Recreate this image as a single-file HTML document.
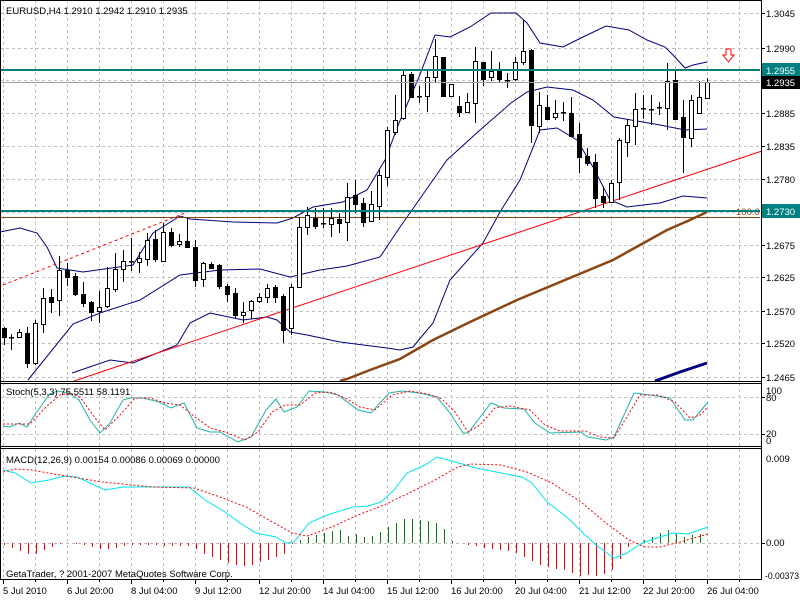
<!DOCTYPE html>
<html><head><meta charset="utf-8"><style>
html,body{margin:0;padding:0;background:#fff;}
svg{display:block;font-family:"Liberation Sans",sans-serif;font-size:9.5px;}
</style></head><body>
<svg id="s" width="800" height="600" xmlns="http://www.w3.org/2000/svg"></svg>
<script>
var s=document.getElementById('s');var h='';
function L(x1,y1,x2,y2,c,w,d){h+='<line x1="'+x1+'" y1="'+y1+'" x2="'+x2+'" y2="'+y2+'" stroke="'+c+'" stroke-width="'+(w||1)+'"'+(d?' stroke-dasharray="'+d+'"':'')+'/>';}
function P(pts,c,w,d){h+='<polyline fill="none" points="'+pts.map(function(p){return p.join(',')}).join(' ')+'" stroke="'+c+'" stroke-width="'+(w||1)+'"'+(d?' stroke-dasharray="'+d+'"':'')+'/>';}
function T(x,y,t,c,a){h+='<text x="'+x+'" y="'+y+'" fill="'+(c||'#000')+'"'+(a?' text-anchor="'+a+'"':'')+'>'+t+'</text>';}
var G='#c0c0c0',D='3,3';
for(var x=3;x<760;x+=32){L(x+.5,0,x+.5,381,G,1,D);L(x+.5,383,x+.5,446,G,1,D);L(x+.5,449,x+.5,579,G,1,D);}
var gy=[13,48,80,113,146,179,212,245,277,311,343,377];
gy.forEach(function(y){L(0,y+.5,760,y+.5,G,1,D);});
L(0,397.5,760,397.5,G,1,D);L(0,434.5,760,434.5,G,1,D);L(0,543.5,760,543.5,G,1,D);
var lab=[['1.3045',13],['1.2990',48],['1.2885',113],['1.2835',146],['1.2780',179],['1.2675',245],['1.2625',277],['1.2570',311],['1.2520',343],['1.2465',377]];
lab.forEach(function(l){L(761,l[1]+.5,765,l[1]+.5,'#000');T(766,l[1]+4,l[0]);});
P([[0,232],[20,228],[37,233],[47,247],[57,268],[83,272],[133,265],[153,233],[180,216],[190,219],[233,222],[277,223],[293,218],[313,207],[343,202],[367,190],[385,160],[399,123],[419,77],[435,35],[450,37],[470,27],[491,13],[516,13],[527,23],[540,43],[563,47],[583,37],[606,26],[629,30],[647,40],[665,47],[673,55],[685,68],[693,65],[707,62]],'#000080');
P([[28,380],[73,324],[100,313],[140,300],[180,275],[220,270],[260,269],[290,277],[320,270],[347,266],[380,257],[400,227],[405,220],[433,180],[447,160],[480,130],[511,103],[527,92],[547,87],[573,90],[593,100],[614,117],[660,125],[685,130],[707,129]],'#000080');
P([[72,373],[110,360],[133,363],[177,345],[190,323],[210,313],[243,320],[267,317],[277,320],[290,332],[307,335],[340,342],[387,348],[400,350],[413,347],[433,323],[450,280],[483,243],[500,212],[520,180],[540,130],[557,128],[577,140],[593,167],[610,200],[627,207],[660,203],[683,196],[707,198]],'#000080');
P([[340,381],[347,379],[370,370],[400,359],[433,340],[470,322],[517,300],[565,280],[613,260],[640,245],[667,230],[690,220],[707,212]],'#8B4513',2.5);
P([[655,381],[680,372],[707,363]],'#000080',3);
L(0,217.5,760,217.5,'#8B4513',1);
T(736,215,'100.0','#8B4513');
L(74,381,762,151,'#ff0000',1);
L(3,285,185,213,'#ff0000',1,'3,3');
var C=[[4,327,345,328,337,0],[11,334,350,337,337,2],[19,329,337,332,337,1],[27,327,368,333,363,0],[35,320,365,323,363,1],[43,288,333,298,324,1],[51,289,313,297,302,0],[59,256,316,270,300,1],[67,263,286,270,277,0],[75,273,296,276,294,0],[83,282,307,294,303,0],[91,301,321,302,312,0],[99,291,323,307,311,1],[107,267,308,288,306,1],[115,253,292,269,289,1],[123,250,282,261,269,1],[131,238,271,261,262,2],[139,252,273,258,262,1],[147,233,266,240,259,1],[155,230,262,239,259,0],[163,223,261,232,261,1],[171,228,247,232,245,0],[179,234,247,241,244,1],[187,217,248,241,247,0],[195,240,287,247,280,0],[203,262,287,263,279,1],[211,262,268,264,268,0],[219,264,289,265,286,0],[227,284,302,286,294,0],[235,288,318,293,315,0],[243,302,323,312,315,1],[251,300,319,301,310,1],[259,293,303,297,301,1],[267,284,303,288,297,1],[275,285,303,287,297,0],[283,294,343,296,330,0],[291,284,335,287,328,1],[299,217,288,227,287,1],[307,207,235,215,227,1],[315,208,229,218,226,0],[323,208,228,223,223,2],[331,208,237,218,224,1],[339,213,233,219,223,0],[347,183,241,197,222,1],[355,180,213,195,204,0],[363,198,227,203,222,0],[371,191,222,204,221,1],[379,169,220,175,206,1],[387,127,186,130,177,1],[395,95,135,120,132,1],[403,70,120,75,118,1],[411,72,98,74,97,0],[419,86,103,96,96,2],[427,70,112,77,96,1],[435,39,83,56,77,1],[443,57,96,57,96,0],[451,84,96,84,96,1],[459,96,117,106,112,0],[467,93,113,102,112,1],[475,47,123,61,103,1],[483,62,86,62,79,0],[491,51,81,71,77,1],[499,62,83,71,79,0],[507,73,88,80,80,2],[515,57,81,62,79,1],[523,20,65,51,62,1],[531,49,143,50,125,0],[539,92,133,105,126,1],[547,95,120,107,119,0],[555,100,120,113,117,1],[563,102,121,112,113,2],[571,97,137,113,136,0],[579,123,173,134,157,0],[587,148,166,156,163,0],[595,154,208,162,198,0],[603,186,208,196,202,0],[611,180,203,183,202,1],[619,138,200,140,182,1],[627,119,157,125,142,1],[635,93,145,109,126,1],[643,95,119,108,110,2],[651,95,125,109,111,2],[659,102,115,107,109,2],[667,63,130,81,108,1],[675,70,120,80,119,0],[683,100,173,117,137,0],[691,95,147,100,138,1],[699,81,113,97,113,1],[707,78,99,82,98,1]];
C.forEach(function(c){var x=c[0];L(x+.5,c[1],x+.5,c[2],'#000');
 if(c[5]==2){h+='<rect x="'+(x-2)+'" y="'+c[3]+'" width="5" height="1.5" fill="#000"/>';}
 else h+='<rect x="'+(x-2)+'.5" y="'+c[3]+'.5" width="4" height="'+Math.max(1,c[4]-c[3])+'" fill="'+(c[5]?'#fff':'#000')+'" stroke="#000"/>';});
L(0,70,760,70,'#008080',2);
L(0,211,760,211,'#008080',2);
L(0,82.5,760,82.5,'#a0a0a0',1);
h+='<rect x="762" y="63" width="38" height="14" fill="#008080"/>';T(766,74,'1.2955','#fff');
h+='<rect x="762" y="76" width="38" height="13" fill="#000"/>';T(766,86,'1.2935','#fff');
h+='<rect x="762" y="204" width="38" height="14" fill="#008080"/>';T(766,215,'1.2730','#fff');
h+='<polygon points="726,49 731,49 731,55 734,55 728.5,62 723,55 726,55" fill="#fff" stroke="#ff0000"/>';
T(6,14,'EURUSD,H4  1.2910 1.2942 1.2910 1.2935');
var sm=[[3,426],[10,427],[19,423],[27,427],[36,413],[49,395],[57,391],[69,393],[79,400],[90,420],[100,433],[110,423],[123,400],[130,398],[143,398],[159,402],[171,408],[184,403],[197,428],[210,432],[220,432],[238,442],[251,437],[266,410],[276,399],[284,412],[297,407],[309,391],[325,392],[338,395],[358,410],[371,413],[389,393],[402,391],[419,393],[437,397],[450,413],[463,433],[468,433],[491,403],[504,408],[524,409],[535,423],[550,433],[581,432],[588,437],[606,440],[614,437],[634,393],[650,395],[670,398],[685,420],[693,420],[708,402]];
var ss=[[3,424],[15,424],[30,424],[45,408],[60,395],[70,393],[80,397],[95,418],[105,430],[120,415],[135,398],[150,398],[165,403],[180,405],[195,417],[210,428],[225,432],[245,440],[258,432],[272,412],[285,405],[300,405],[315,393],[330,392],[345,398],[360,407],[375,410],[392,395],[410,391],[428,394],[442,399],[455,412],[468,432],[480,425],[495,408],[510,406],[530,410],[545,425],[560,431],[585,431],[600,437],[614,438],[625,420],[640,395],[658,395],[675,402],[690,418],[700,415],[708,407]];
P(sm,'#20B2AA',1);P(ss,'#ff0000',1,'2,2');
T(6,395,'Stoch(5,3,3) 75.5511 58.1191');
L(761,397.5,765,397.5,'#000');L(761,434.5,765,434.5,'#000');
T(766,394,'100');T(766,401,'80');T(766,437,'20');T(766,444,'0');
var hk=[[3,545],[10,548],[19,550],[27,554],[35,554],[43,550],[51,547],[59,544],[67,543],[90,546],[100,549],[110,549],[120,547],[130,545],[190,546],[195,548],[203,553],[211,557],[219,560],[227,563],[235,565],[243,566],[251,565],[259,562],[267,560],[275,557],[283,555],[291,545],[299,540],[307,537],[315,535],[323,533],[331,531],[339,529],[347,536],[355,533],[363,537],[371,537],[379,532],[387,528],[395,523],[403,519],[411,519],[419,520],[427,521],[435,522],[443,527],[451,541],[459,543],[467,545],[475,546],[483,548],[491,549],[499,550],[507,551],[515,552],[523,556],[531,560],[539,565],[547,567],[555,569],[563,570],[571,573],[579,576],[587,575],[595,576],[603,574],[611,571],[619,560],[627,548],[635,543],[643,540],[651,537],[659,533],[667,530],[675,533],[683,537],[691,535],[699,534],[707,535]];
function hv(x){for(var i=0;i<hk.length-1;i++){if(x>=hk[i][0]&&x<=hk[i+1][0]){var t=(x-hk[i][0])/(hk[i+1][0]-hk[i][0]);return hk[i][1]+t*(hk[i+1][1]-hk[i][1]);}}return 543;}
for(var x=4;x<=707;x+=8){var y=Math.round(hv(x));if(y!=543)L(x+.5,543,x+.5,y,y>543?'#ff0000':'#008000',1);}
P([[3,470],[15,473],[31,483],[49,480],[64,476],[77,477],[105,490],[123,487],[153,487],[189,487],[205,500],[225,512],[240,523],[256,533],[276,537],[286,543],[294,542],[309,523],[327,515],[353,507],[368,506],[381,502],[394,490],[407,473],[425,465],[437,457],[448,460],[455,462],[476,468],[496,472],[522,477],[532,483],[547,502],[568,518],[583,533],[596,545],[614,558],[627,553],[642,543],[660,537],[673,533],[688,534],[708,527]],'#00e5ee',1);
P([[3,472],[15,469],[31,470],[66,476],[102,482],[153,487],[194,488],[220,497],[246,507],[269,520],[292,533],[307,536],[332,527],[358,515],[384,505],[409,493],[435,480],[458,467],[471,464],[501,465],[527,472],[552,483],[581,502],[606,523],[629,540],[645,547],[660,547],[680,542],[708,534]],'#ff0000',1,'2,2');
T(6,463,'MACD(12,26,9) 0.00154 0.00086 0.00069 0.00000');
T(6,577,'GetaTrader, ? 2001-2007 MetaQuotes Software Corp.');
T(766,462,'0.009');T(766,546,'0.00');
h+='<text x="765" y="579" font-size="9" textLength="34" lengthAdjust="spacingAndGlyphs">-0.00373</text>';
L(761,543.5,765,543.5,'#000');
L(0,0.5,762,0.5,'#000');L(0.5,0,0.5,580,'#000');
L(0,381.5,762,381.5,'#000');L(0,383.5,762,383.5,'#000');
L(0,446.5,762,446.5,'#000');L(0,448.5,762,448.5,'#000');
L(0,579.5,762,579.5,'#000');L(761.5,0,761.5,580,'#000');
var tl=['5 Jul 2010','6 Jul 20:00','8 Jul 04:00','9 Jul 12:00','12 Jul 20:00','14 Jul 04:00','15 Jul 12:00','16 Jul 20:00','20 Jul 04:00','21 Jul 12:00','22 Jul 20:00','26 Jul 04:00'];
tl.forEach(function(t,i){var x=3+64*i;L(x+.5,580,x+.5,584,'#000');T(x,594,t);});
for(var x=35;x<760;x+=64)L(x+.5,580,x+.5,582,'#000');
s.innerHTML=h;
</script>
</body></html>
